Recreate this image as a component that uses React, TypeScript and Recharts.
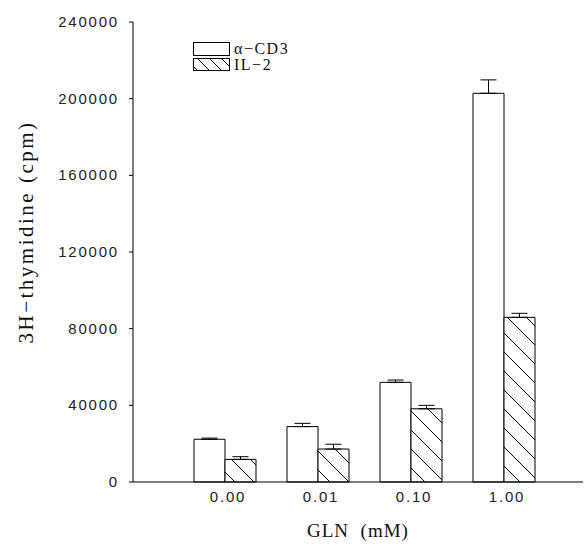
import React from "react";
import { BarChart, Bar, XAxis, YAxis, ErrorBar } from "recharts";

const categories = ["0.00", "0.01", "0.10", "1.00"];
const cd3Values = [22300, 28900, 52000, 202800];
const cd3Errors = [600, 1700, 1200, 7000];
const il2Values = [11800, 17200, 38200, 85900];
const il2Errors = [1400, 2500, 1800, 2100];
const yTicks = [0, 40000, 80000, 120000, 160000, 200000, 240000];
const seriesNames = ["α−CD3", "IL−2"];

const data = categories.map((c, i) => ({
  gln: c,
  cd3: cd3Values[i],
  cd3Err: [0, cd3Errors[i]],
  il2: il2Values[i],
  il2Err: [0, il2Errors[i]],
}));

const SERIF = "'Liberation Serif', 'DejaVu Serif', serif";
const SANS = "'Liberation Sans', Arial, sans-serif";

const HatchDef = ({ id }: { id: string }) => (
  <pattern id={id} patternUnits="userSpaceOnUse" width={19} height={19}>
    <rect x={0} y={0} width={19} height={19} fill="#fff" />
    <path d="M-2,-2 L21,21 M-2,17 L2,21 M17,-2 L21,2" stroke="#000" strokeWidth={1} />
  </pattern>
);

const XTick = (props: any) => {
  const { x, y, payload } = props;
  return (
    <text x={x + 3} y={y + 12} textAnchor="middle" fontFamily={SANS} fontSize={15} letterSpacing={1.8} fill="#222">
      {payload.value}
    </text>
  );
};

const YTick = (props: any) => {
  const { x, y, payload } = props;
  return (
    <text x={x} y={y + 5} textAnchor="end" fontFamily={SANS} fontSize={15} letterSpacing={1.8} fill="#222">
      {payload.value}
    </text>
  );
};

export default function App() {
  return (
    <div style={{ position: "absolute", left: 0, top: 0, width: 586, height: 548, background: "#fff" }}>
      <BarChart
        width={586}
        height={548}
        data={data}
        margin={{ top: 22, right: 3, bottom: 0, left: 0 }}
        barGap={0}
        barCategoryGap="16.67%"
      >
        <defs>
          <HatchDef id="hatch" />
        </defs>
        <XAxis
          dataKey="gln"
          height={66}
          tickLine={false}
          axisLine={{ stroke: "#000", strokeWidth: 1 }}
          padding={{ left: 45.5, right: 32.5 }}
          tick={<XTick />}
          label={(p: any) => {
            const vb = p.viewBox;
            return (
              <text x={vb.x + vb.width / 2} y={537} textAnchor="middle" fontFamily={SERIF} fontSize={19} letterSpacing={1} fill="#111">
                {"GLN\u00a0\u00a0(mM)"}
              </text>
            );
          }}
        />
        <YAxis
          width={133}
          domain={[0, 240000]}
          ticks={yTicks}
          interval={0}
          tickSize={4}
          tickMargin={10}
          axisLine={{ stroke: "#000", strokeWidth: 1 }}
          tickLine={{ stroke: "#000", strokeWidth: 1 }}
          tick={<YTick />}
          label={() => (
            <text
              x={26}
              y={232}
              transform="rotate(-90 26 232)"
              textAnchor="middle"
              dominantBaseline="central"
              fontFamily={SERIF}
              fontSize={21}
              letterSpacing={2.5}
              fill="#111"
            >
              3H−thymidine (cpm)
            </text>
          )}
        />
        <Bar dataKey="cd3" fill="#fff" stroke="#000" strokeWidth={1} isAnimationActive={false}>
          <ErrorBar dataKey="cd3Err" width={8} stroke="#000" strokeWidth={1} direction="y" />
        </Bar>
        <Bar dataKey="il2" fill="url(#hatch)" stroke="#000" strokeWidth={1} isAnimationActive={false}>
          <ErrorBar dataKey="il2Err" width={8} stroke="#000" strokeWidth={1} direction="y" />
        </Bar>
      </BarChart>
      <svg width={140} height={34} style={{ position: "absolute", left: 193, top: 42, overflow: "visible" }}>
        <defs>
          <pattern id="hatchLegend" patternUnits="userSpaceOnUse" width={12} height={12}>
            <rect x={0} y={0} width={12} height={12} fill="#fff" />
            <path d="M-2,-2 L14,14 M-2,10 L2,14 M10,-2 L14,2" stroke="#000" strokeWidth={1} />
          </pattern>
        </defs>
        <rect x={0.5} y={0.5} width={36} height={13} fill="#fff" stroke="#000" strokeWidth={1} />
        <text x={41} y={12} fontFamily={SERIF} fontSize={16} letterSpacing={1.5} fill="#111">{seriesNames[0]}</text>
        <rect x={0.5} y={16.5} width={36} height={12} fill="url(#hatchLegend)" stroke="#000" strokeWidth={1} />
        <text x={41} y={28} fontFamily={SERIF} fontSize={16} letterSpacing={1.5} fill="#111">{seriesNames[1]}</text>
      </svg>
    </div>
  );
}
